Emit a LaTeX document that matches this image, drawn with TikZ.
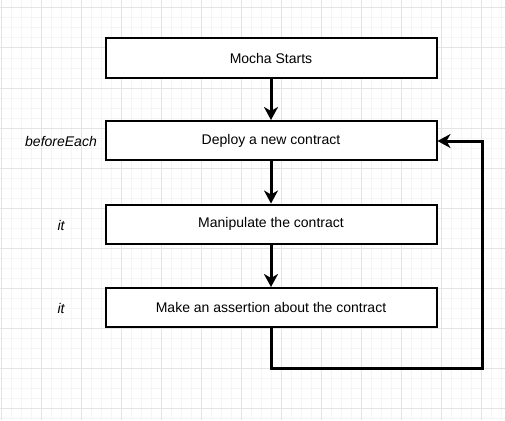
\documentclass[tikz,border=0pt]{standalone}
\usepackage{fontspec}
\setmainfont{Liberation Sans}
\usepackage{xcolor}
\usetikzlibrary{arrows.meta}
\definecolor{gridminor}{HTML}{F5F5F5}
\definecolor{gridmajor}{HTML}{E4E4E4}

\begin{document}
\begin{tikzpicture}[x=1pt,y=-1pt,
 stepbox/.style={draw,line width=2pt,minimum width=331pt,minimum height=39pt,inner sep=0pt,font=\fontsize{14}{16}\selectfont,fill=white},
 hooklabel/.style={font=\fontsize{14}{16}\selectfont\itshape},
 flow/.style={line width=3pt,-{Stealth[length=13pt,width=14pt,inset=4pt]}}]
\useasboundingbox (0,0) rectangle (505,420);
\fill[white] (0,0) rectangle (505,420);
% grid
\foreach \x in {1,11,...,501} \draw[gridminor,line width=1pt] (\x,0) -- (\x,420);
\foreach \y in {-2,8,...,418} \draw[gridminor,line width=1pt] (0,\y) -- (505,\y);
\foreach \x in {1,41,...,501} \draw[gridmajor,line width=1pt] (\x,0) -- (\x,420);
\foreach \y in {8,48,...,408} \draw[gridmajor,line width=1pt] (0,\y) -- (505,\y);
% steps
\node[stepbox] (start) at (271,58) {Mocha Starts};
\node[stepbox] (deploy) at (271,140.5) {Deploy a new contract};
\node[stepbox] (manip) at (271,224) {Manipulate the contract};
\node[stepbox] (assert) at (271,307.5) {Make an assertion about the contract};
\node[hooklabel] (lbeach) at (61,141) {beforeEach};
\node[hooklabel] (lit1) at (61,225) {it};
\node[hooklabel] (lit2) at (61,308) {it};
\draw[flow] (start) -- (deploy);
\draw[flow] (deploy) -- (manip);
\draw[flow] (manip) -- (assert);
% loop back
\coordinate (loopa) at (271,368);
\coordinate (loopb) at (482,368);
\coordinate (loopc) at (482,141);
\draw[flow] (assert.south) -- (loopa) -- (loopb) -- (loopc) -- (deploy.east|-loopc);
\end{tikzpicture}
\end{document}
